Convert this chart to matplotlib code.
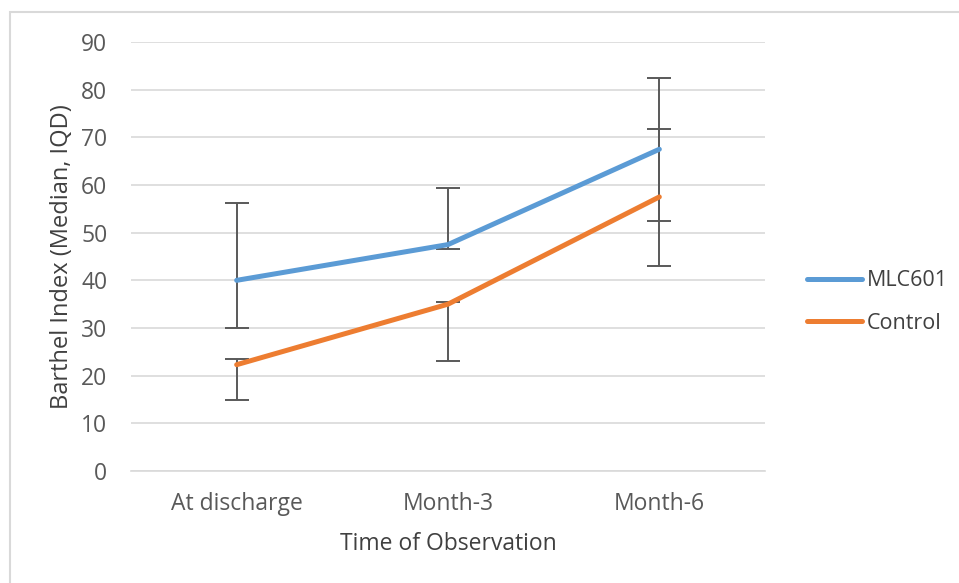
import matplotlib.pyplot as plt
from matplotlib.patches import Rectangle
from matplotlib.lines import Line2D
import numpy as np

categories = ['At discharge', 'Month-3', 'Month-6']
mlc601 = [40, 47.5, 67.5]
mlc601_low = [30, 46.6, 52.4]
mlc601_high = [56.2, 59.3, 82.4]
control = [22.3, 35, 57.5]
control_low = [15, 23.1, 43]
control_high = [23.6, 35.5, 71.7]

W, H = 959, 583
fig = plt.figure(figsize=(W / 100, H / 100), dpi=100)
plt.rcParams['font.family'] = ['Open Sans', 'DejaVu Sans']

# outer frame (only top/left visible in the source)
fig.patches.append(Rectangle((10 / W, -0.1), 1.2, 1 - 12 / H + 0.1, transform=fig.transFigure,
                             fill=False, edgecolor='#d9d9d9', lw=1.5))

ax = fig.add_axes([131 / W, 1 - 471 / H, (765 - 131) / W, (471 - 42) / H])
x = np.arange(len(categories))
blue = '#5b9bd5'
orange = '#ed7d31'
grey = '#595959'


def draw(vals, low, high, color, label):
    vals = np.array(vals)
    yerr = [vals - np.array(low), np.array(high) - vals]
    ax.errorbar(x, vals, yerr=yerr, fmt='none', ecolor=grey, elinewidth=1.4,
                capsize=8.5, capthick=1.4, zorder=3)
    ax.plot(x, vals, color=color, lw=3.6, solid_capstyle='round', label=label, zorder=4)


draw(mlc601, mlc601_low, mlc601_high, blue, 'MLC601')
draw(control, control_low, control_high, orange, 'Control')

ax.set_xlim(-0.5, 2.5)
ax.set_ylim(0, 90)
ax.set_yticks(range(0, 91, 10))
ax.set_xticks(x)
ax.set_xticklabels(categories)
ax.yaxis.grid(True, color='#d9d9d9', lw=1.2)
ax.set_axisbelow(True)
for s in ['top', 'right', 'left']:
    ax.spines[s].set_visible(False)
ax.spines['bottom'].set_color('#d9d9d9')
ax.spines['bottom'].set_linewidth(1.2)
ax.tick_params(length=0, labelsize=16.5, colors=grey)
ax.tick_params(axis='y', pad=17)
ax.tick_params(axis='x', pad=15)
ax.set_xlabel('Time of Observation', fontsize=16.5, color='#404040', labelpad=12)
ax.set_ylabel('Barthel Index (Median, IQD)', fontsize=17, color='#404040', labelpad=5)

handles = [Line2D([], [], color=blue, lw=3.6, solid_capstyle='round'),
           Line2D([], [], color=orange, lw=3.6, solid_capstyle='round')]
fig.legend(handles, ['MLC601', 'Control'], loc='center left',
           bbox_to_anchor=(788 / W, 1 - 302 / H), frameon=False, fontsize=15.5,
           labelcolor='#404040', handlelength=2.55, handletextpad=0.2, labelspacing=1.0)

fig.savefig('out.png', dpi=100)
